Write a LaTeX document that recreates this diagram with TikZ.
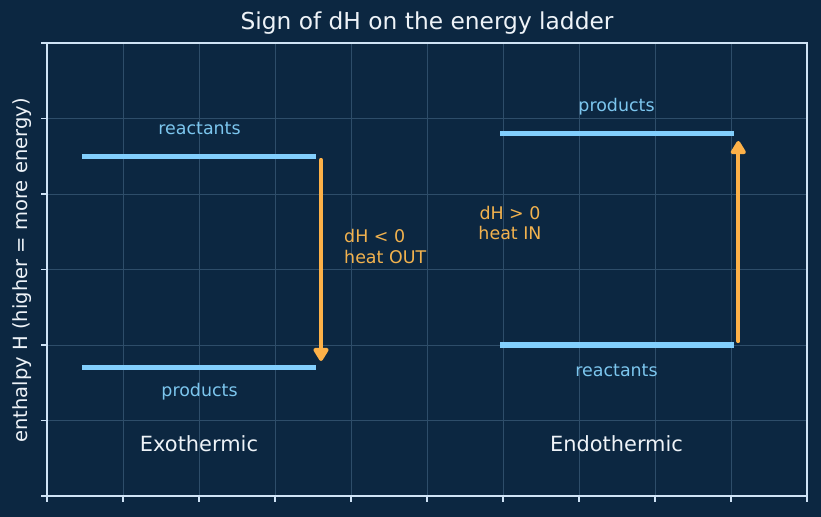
\documentclass[tikz,border=0pt]{standalone}
\usepackage{fontspec}
\setmainfont{DejaVu Sans}
\usetikzlibrary{arrows.meta}
\definecolor{bgnavy}{HTML}{0C2741}
\definecolor{gridc}{HTML}{2E4D69}
\definecolor{spinec}{HTML}{CFE3F5}
\definecolor{barc}{HTML}{82CFFD}
\definecolor{lblc}{HTML}{7CC6EE}
\definecolor{orng}{HTML}{FDB148}
\definecolor{orngtxt}{HTML}{F2B24E}
\definecolor{whitetxt}{HTML}{EEF3F8}
\tikzset{
  level/.style={barc, line width=5.3bp},
  heat/.style={orng, line width=4.2bp, line cap=round, -{Triangle[width=17bp,length=15bp,round]}},
  lbl/.style={lblc, inner sep=0pt, font=\fontsize{17.5}{21}\selectfont},
  heattxt/.style={orngtxt, inner sep=0pt, font=\fontsize{17.5}{21}\selectfont},
  sidetxt/.style={whitetxt, inner sep=0pt, font=\fontsize{21}{24}\selectfont},
  gridline/.style={gridc, line width=0.8bp},
  spine/.style={spinec, line width=1.5bp},
}
\begin{document}
\begin{tikzpicture}[x=1bp,y=-1bp]
\useasboundingbox (0,0) rectangle (821,517);
\fill[bgnavy] (0,0) rectangle (821,517);
% grid
\foreach \k in {1,...,9} \draw[gridline] ({47+76*\k},43) -- ({47+76*\k},496);
\foreach \k in {1,...,5} \draw[gridline] (47,{43+75.5*\k}) -- (807,{43+75.5*\k});
% levels
\coordinate (exoR1) at (85,156.7); \coordinate (exoR2) at (313,156.7);
\coordinate (exoP1) at (85,367.7); \coordinate (exoP2) at (313,367.7);
\coordinate (endR1) at (503,345); \coordinate (endR2) at (731,345);
\coordinate (endP1) at (503,133.7); \coordinate (endP2) at (731,133.7);
\draw[level, line cap=rect] (exoR1) -- (exoR2);
\draw[level, line cap=rect] (exoP1) -- (exoP2);
\draw[level, line cap=rect] (endR1) -- (endR2);
\draw[level, line cap=rect] (endP1) -- (endP2);
% arrows
\coordinate (exoA) at (321,160);
\coordinate (exoB) at (321,361);
\coordinate (endA) at (738.3,341);
\coordinate (endB) at (738.3,141);
\draw[heat] (exoA) -- (exoB);
\draw[heat] (endA) -- (endB);
% spines and ticks
\draw[spine] (47,43) rectangle (807,496);
\foreach \k in {0,...,6} \draw[spine, line width=1.3bp] (41,{43+75.5*\k}) -- (47,{43+75.5*\k});
\foreach \k in {0,...,10} \draw[spine, line width=1.3bp] ({47+76*\k},496) -- ({47+76*\k},502);
% texts
\node[whitetxt, inner sep=0pt, font=\fontsize{23.4}{27}\selectfont] (title) at (427,23) {Sign of dH on the energy ladder};
\node[whitetxt, inner sep=0pt, rotate=90, font=\fontsize{19.6}{23}\selectfont] (ylab) at (22.5,270.5) {enthalpy H (higher = more energy)};
\node[lbl] (exoRl) at (199.5,128.5) {reactants};
\node[lbl] (exoPl) at (199.5,392) {products};
\node[lbl] (endPl) at (616.5,106.5) {products};
\node[lbl] (endRl) at (616.5,370.5) {reactants};
\node[heattxt, anchor=west, align=left] (exoH) at (344,246.5) {dH < 0\\heat OUT};
\node[heattxt, align=center] (endH) at (510,223) {dH > 0\\heat IN};
\node[sidetxt] (exo) at (199,443.5) {Exothermic};
\node[sidetxt] (endo) at (616.5,443.5) {Endothermic};
\end{tikzpicture}
\end{document}
